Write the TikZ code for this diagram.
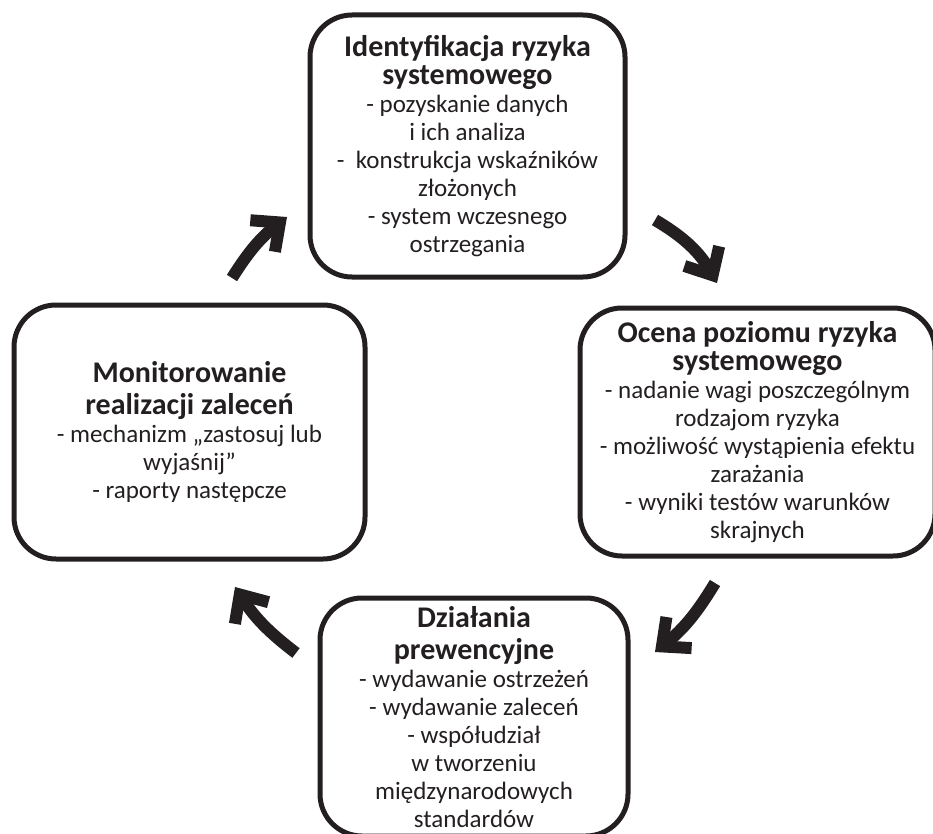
\documentclass[tikz,border=0pt]{standalone}
\usepackage{fontspec}
\setmainfont{Carlito}
\usetikzlibrary{arrows.meta}
\definecolor{ink}{RGB}{35,31,32}
\newcommand\stagehead[1]{{\fontsize{30}{28}\selectfont\bfseries #1}}
\tikzset{
  stage/.style={draw=ink,line width=5pt,rounded corners=42pt,align=center,text=ink,
    font=\fontsize{25}{28}\selectfont,inner sep=0pt},
  cycarrow/.style={draw=ink,line width=12pt,-{Straight Barb[length=22pt,width=40pt]}},
}
\begin{document}
\begin{tikzpicture}[x=1pt,y=-1pt]
\useasboundingbox (0,0) rectangle (933,834);
\clip (0,0) rectangle (933,834);

\node (Ident) at (467.5,146) [stage,minimum width=315pt,minimum height=262pt] {\stagehead{Identyfikacja ryzyka}\\ \stagehead{systemowego}\\ - pozyskanie danych\\ i ich analiza\\ - \ konstrukcja wskaźników\\ złożonych\\ - system wczesnego\\ ostrzegania};

\node (Ocena) at (757.5,432) [stage,minimum width=355pt,minimum height=248pt] {\stagehead{Ocena poziomu ryzyka}\\ \stagehead{systemowego}\\ - nadanie wagi poszczególnym\\ rodzajom ryzyka\\ - możliwość wystąpienia efektu\\ zarażania\\ - wyniki testów warunków\\ skrajnych};

\node (Dzial) at (474,717) [stage,minimum width=308pt,minimum height=238pt] {\stagehead{Działania}\\[4pt] \stagehead{prewencyjne}\\ - wydawanie ostrzeżeń\\ - wydawanie zaleceń\\ - współudział\\ w tworzeniu\\ międzynarodowych\\ standardów};

\node (Monit) at (189.5,432) [stage,minimum width=351pt,minimum height=254pt] {\stagehead{Monitorowanie}\\[4pt] \stagehead{realizacji zaleceń}\\ - mechanizm „zastosuj lub\\ wyjaśnij”\\ - raporty następcze};

\coordinate (MtoI) at (232,278);
\coordinate (ItoM) at (287,217);
\coordinate (ItoO) at (655,220);
\coordinate (OtoI) at (717,283);
\coordinate (OtoD) at (715,583);
\coordinate (DtoO) at (655,652);
\coordinate (DtoM) at (296,653);
\coordinate (MtoD) at (235,587);

\draw[cycarrow] (MtoI) to[bend left=10] (ItoM);
\draw[cycarrow] (ItoO) to[bend left=15] (OtoI);
\draw[cycarrow] (OtoD) to[bend left=10] (DtoO);
\draw[cycarrow] (DtoM) to[bend left=10] (MtoD);

\end{tikzpicture}
\end{document}
